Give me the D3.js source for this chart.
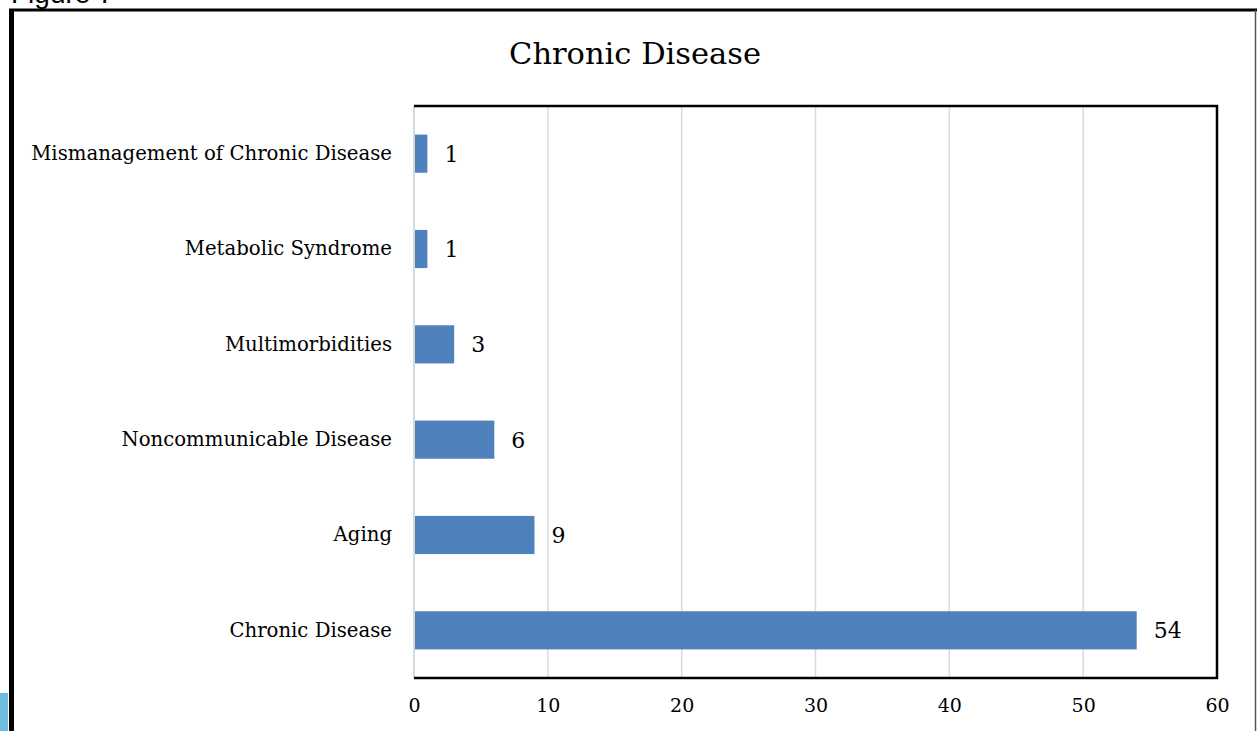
<!DOCTYPE html>
<html>
<head>
<meta charset="utf-8">
<script src="https://cdn.jsdelivr.net/npm/d3@7"></script>
<style>
  html, body { margin: 0; padding: 0; background: #fff; }
  svg { display: block; }
</style>
</head>
<body>
<svg id="chart" width="1257" height="731"></svg>
<script>
const categories = ["Mismanagement of Chronic Disease", "Metabolic Syndrome", "Multimorbidities", "Noncommunicable Disease", "Aging", "Chronic Disease"];
const values = [1, 1, 3, 6, 9, 54];
const xTicks = [0, 10, 20, 30, 40, 50, 60];
const chartTitle = "Chronic Disease";
const figureLabel = "Figure 7";

const svg = d3.select("#chart");
const serif = "'DejaVu Serif', 'Liberation Serif', serif";

// page decorations
svg.append("text").attr("x", 11).attr("y", 3)
  .attr("font-family", "'Liberation Sans', Arial, sans-serif").attr("font-size", 28)
  .attr("fill", "#000").text(figureLabel);
svg.append("rect").attr("x", 0).attr("y", 693).attr("width", 8).attr("height", 38).attr("fill", "#6fbcdc");
// outer frame
svg.append("line").attr("x1", 9).attr("x2", 1257).attr("y1", 10).attr("y2", 10).attr("stroke", "#000").attr("stroke-width", 3);
svg.append("line").attr("x1", 11.5).attr("x2", 11.5).attr("y1", 9).attr("y2", 731).attr("stroke", "#000").attr("stroke-width", 5);
svg.append("line").attr("x1", 1255.5).attr("x2", 1255.5).attr("y1", 10).attr("y2", 731).attr("stroke", "#555").attr("stroke-width", 1.5);

const L = 414, R = 1217, T = 106, B = 678;
const x = d3.scaleLinear().domain([0, 60]).range([L, R]);
const y = d3.scaleBand().domain(categories).range([T, B]).paddingInner(0.6).paddingOuter(0.3);

// title
svg.append("text").attr("x", 635).attr("y", 64).attr("text-anchor", "middle")
  .attr("font-family", serif).attr("font-size", 30.5).attr("fill", "#000").text(chartTitle);

// gridlines
svg.append("g").selectAll("line").data(xTicks.filter(d => d > 0 && d < 60)).join("line")
  .attr("x1", d => x(d)).attr("x2", d => x(d)).attr("y1", T).attr("y2", B)
  .attr("stroke", "#d9d9d9").attr("stroke-width", 1.5);

// x axis labels
const xAxis = d3.axisBottom(x).tickValues(xTicks).tickSize(0).tickPadding(0);
const gx = svg.append("g").attr("transform", `translate(0,${B + 20})`).call(xAxis);
gx.select(".domain").remove();
gx.selectAll("text").attr("font-family", serif).attr("font-size", 19).attr("fill", "#000").attr("dy", "0.71em");

// y axis labels
const yAxis = d3.axisLeft(y).tickSize(0).tickPadding(22);
const gy = svg.append("g").attr("transform", `translate(${L},0)`).call(yAxis);
gy.select(".domain").remove();
gy.selectAll("text").attr("font-family", serif).attr("font-size", 19.7).attr("fill", "#000");

// left axis (grey)
svg.append("line").attr("x1", L).attr("x2", L).attr("y1", T).attr("y2", B).attr("stroke", "#d9d9d9").attr("stroke-width", 2);

// bars
svg.append("g").selectAll("rect").data(values).join("rect")
  .attr("x", x(0) + 1).attr("y", (d, i) => y(categories[i]))
  .attr("width", d => x(d) - x(0) - 1).attr("height", y.bandwidth())
  .attr("fill", "#4f81bd");

// value labels
svg.append("g").selectAll("text").data(values).join("text")
  .attr("x", d => x(d) + 17).attr("y", (d, i) => y(categories[i]) + y.bandwidth() / 2)
  .attr("dy", "0.36em").attr("font-family", serif).attr("font-size", 22).attr("fill", "#000")
  .text(d => d);

// plot frame (top, right, bottom black)
svg.append("path").attr("d", `M${L},${T}H${R}V${B}H${L}`).attr("fill", "none").attr("stroke", "#000").attr("stroke-width", 2.5);
</script>
</body>
</html>
